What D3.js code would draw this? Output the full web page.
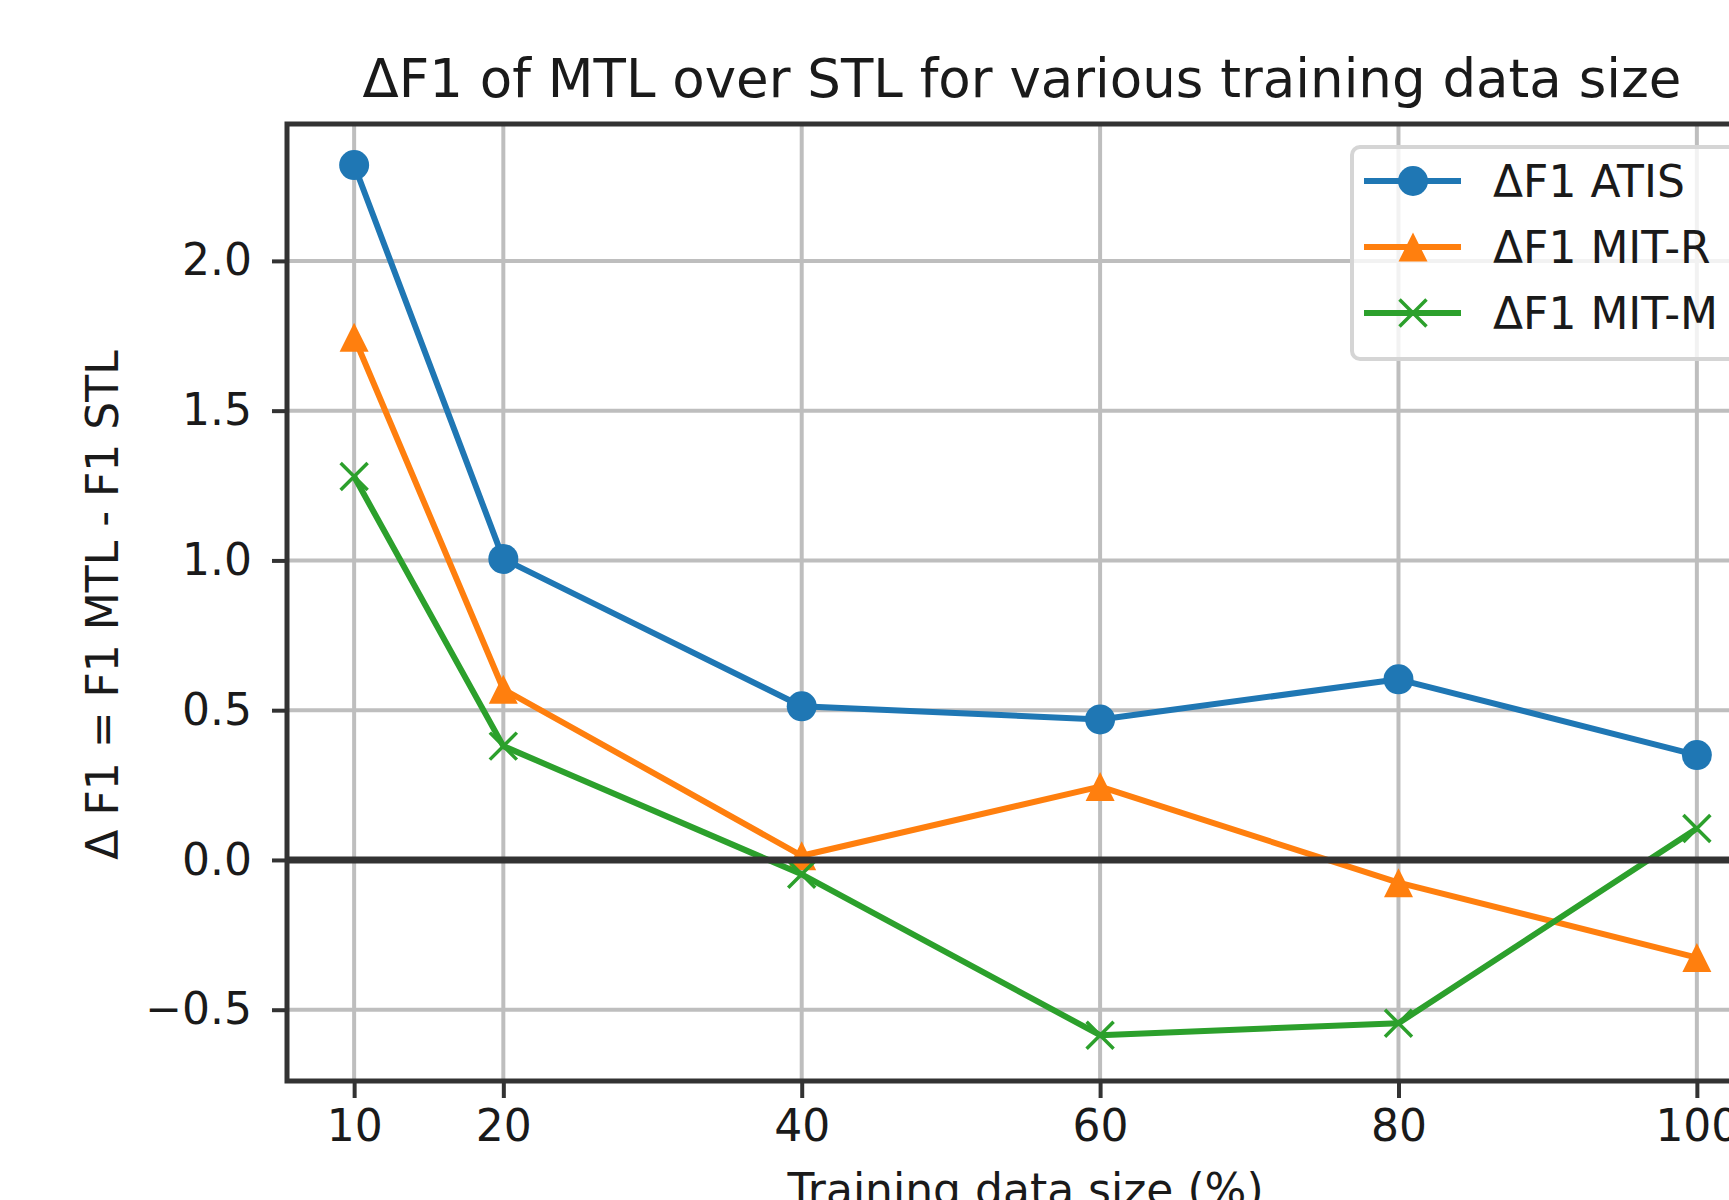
<!DOCTYPE html>
<html>
<head>
<meta charset="utf-8">
<script src="https://cdn.jsdelivr.net/npm/d3@7"></script>
<style>
  html, body { margin: 0; padding: 0; background: #fff; }
  svg { display: block; }
  text { font-family: "DejaVu Sans", sans-serif; fill: #1a1a1a; }
</style>
</head>
<body>
<script>
// ---- data ----
const sizes = [10, 20, 40, 60, 80, 100];
const xTicks = [10, 20, 40, 60, 80, 100];
const yTicks = [-0.5, 0, 0.5, 1.0, 1.5, 2.0];
const atis = [2.32, 1.005, 0.513, 0.469, 0.603, 0.350];
const mitR = [1.745, 0.570, 0.014, 0.245, -0.076, -0.326];
const mitM = [1.28, 0.38, -0.048, -0.585, -0.545, 0.105];
const seriesNames = ["ΔF1 ATIS", "ΔF1 MIT-R", "ΔF1 MIT-M"];
const seriesColors = ["#1f77b4", "#ff7f0e", "#2ca02c"];
const seriesMarkers = ["circle", "triangle", "x"];
const titleText = "ΔF1 of MTL over STL for various training data size";
const xLabel = "Training data size (%)";
const yLabel = "Δ F1 = F1 MTL - F1 STL";

// ---- layout ----
const W = 1729, H = 1200;
const pL = 287, pR = 1764, pT = 124, pB = 1081;

const svg = d3.select("body").append("svg").attr("width", W).attr("height", H);

const x = d3.scaleLinear().domain([5.5, 104.5]).range([pL, pR]);
const y = d3.scaleLinear().domain([-0.738, 2.457]).range([pB, pT]);

const series = [atis, mitR, mitM].map((vals, i) => ({
  name: seriesNames[i], color: seriesColors[i], marker: seriesMarkers[i],
  points: sizes.map((s, j) => ({ x: s, y: vals[j] }))
}));

function drawMarker(g, type, cx, cy, color) {
  if (type === "circle") {
    g.append("circle").attr("cx", cx).attr("cy", cy).attr("r", 15).attr("fill", color);
  } else if (type === "triangle") {
    const h = 14.5;
    g.append("path")
      .attr("d", `M${cx},${cy - h}L${cx - h},${cy + h}L${cx + h},${cy + h}Z`)
      .attr("fill", color);
  } else {
    const h = 13.5;
    g.append("path")
      .attr("d", `M${cx - h},${cy - h}L${cx + h},${cy + h}M${cx - h},${cy + h}L${cx + h},${cy - h}`)
      .attr("stroke", color).attr("stroke-width", 3.5).attr("fill", "none");
  }
}

// grid
const grid = svg.append("g");
grid.selectAll("line.vg").data(xTicks).join("line").attr("class", "vg")
  .attr("x1", d => x(d)).attr("x2", d => x(d))
  .attr("y1", pT).attr("y2", pB)
  .attr("stroke", "#bebebe").attr("stroke-width", 4);
grid.selectAll("line.hg").data(yTicks).join("line").attr("class", "hg")
  .attr("x1", pL).attr("x2", pR)
  .attr("y1", d => y(d)).attr("y2", d => y(d))
  .attr("stroke", "#bebebe").attr("stroke-width", 4);

// series lines
const line = d3.line().x(d => x(d.x)).y(d => y(d.y));
const gS = svg.append("g");
series.forEach(s => {
  gS.append("path").datum(s.points)
    .attr("d", line).attr("fill", "none")
    .attr("stroke", s.color).attr("stroke-width", 6)
    .attr("stroke-linejoin", "round").attr("stroke-linecap", "butt");
  const g = gS.append("g");
  s.points.forEach(p => drawMarker(g, s.marker, x(p.x), y(p.y), s.color));
});

// zero line
svg.append("line")
  .attr("x1", pL).attr("x2", pR)
  .attr("y1", y(0)).attr("y2", y(0))
  .attr("stroke", "#333").attr("stroke-width", 7);

// axes
const xAxis = d3.axisBottom(x).tickValues(xTicks).tickFormat(d3.format("d"))
  .tickSize(17).tickPadding(12);
const gx = svg.append("g").attr("transform", `translate(0,${pB})`).call(xAxis);
gx.select(".domain").remove();
gx.selectAll(".tick line").attr("stroke", "#333").attr("stroke-width", 4);
gx.selectAll(".tick text").attr("font-size", 44).attr("fill", "#1a1a1a")
  .style("font-family", "DejaVu Sans");

const yAxis = d3.axisLeft(y).tickValues(yTicks)
  .tickFormat(d => d3.format(".1f")(d).replace("-", "\u2212"))
  .tickSize(15).tickPadding(20);
const gy = svg.append("g").attr("transform", `translate(${pL},0)`).call(yAxis);
gy.select(".domain").remove();
gy.selectAll(".tick line").attr("stroke", "#333").attr("stroke-width", 4);
gy.selectAll(".tick text").attr("font-size", 44).attr("fill", "#1a1a1a")
  .style("font-family", "DejaVu Sans");

// spines
svg.append("rect").attr("x", pL).attr("y", pT)
  .attr("width", pR - pL).attr("height", pB - pT)
  .attr("fill", "none").attr("stroke", "#333").attr("stroke-width", 5);

// title & labels
svg.append("text").attr("x", 1022).attr("y", 97)
  .attr("text-anchor", "middle").attr("font-size", 53).text(titleText);
svg.append("text").attr("x", (pL + pR) / 2).attr("y", 1205)
  .attr("text-anchor", "middle").attr("font-size", 44).text(xLabel);
svg.append("text").attr("transform", `translate(118,605) rotate(-90)`)
  .attr("text-anchor", "middle").attr("font-size", 44).text(yLabel);

// legend
const lg = svg.append("g");
lg.append("rect").attr("x", 1352).attr("y", 147).attr("width", 400).attr("height", 212)
  .attr("rx", 8).attr("ry", 8)
  .attr("fill", "rgba(255,255,255,0.8)").attr("stroke", "#d5d5d5").attr("stroke-width", 4);
const rowY = [181, 247, 313];
series.forEach((s, i) => {
  const ry = rowY[i];
  lg.append("line").attr("x1", 1364).attr("x2", 1461).attr("y1", ry).attr("y2", ry)
    .attr("stroke", s.color).attr("stroke-width", 6);
  drawMarker(lg, s.marker, 1413, ry, s.color);
  lg.append("text").attr("x", 1493).attr("y", ry + 16).attr("font-size", 44).text(s.name);
});
</script>
</body>
</html>
